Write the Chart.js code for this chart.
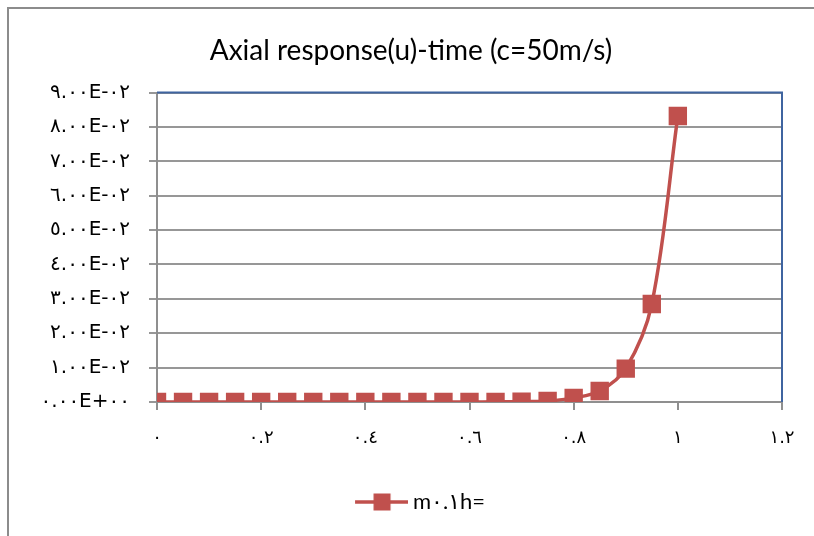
<!DOCTYPE html>
<html>
<head>
<meta charset="utf-8">
<script src="https://cdn.jsdelivr.net/npm/chart.js@4.4.0/dist/chart.umd.min.js"></script>
<style>
    html, body { margin: 0; padding: 0; background: #fff; }
    #wrap { width: 814px; height: 536px; }
</style>
</head>
<body>
<div id="wrap"><canvas id="axialChart" width="814" height="536"></canvas></div>
<script>
// time (s) and axial response u
const timeValues = [0, 0.05, 0.1, 0.15, 0.2, 0.25, 0.3, 0.35, 0.4, 0.45, 0.5,
                    0.55, 0.6, 0.65, 0.7, 0.75, 0.8, 0.85, 0.9, 0.95, 1];
const uValues = [0, 0, 0, 0, 0, 0, 0, 0, 0, 0, 0,
                 0, 0, 0.00005, 0.0001, 0.0003, 0.0012, 0.0032, 0.0097, 0.0285, 0.0832];
const xTickLabels = ['٠', '٠.٢', '٠.٤', '٠.٦', '٠.٨', '١', '١.٢'];
const yTickLabels = ['٠.٠٠E+٠٠', '١.٠٠E-٠٢', '٢.٠٠E-٠٢', '٣.٠٠E-٠٢', '٤.٠٠E-٠٢',
                     '٥.٠٠E-٠٢', '٦.٠٠E-٠٢', '٧.٠٠E-٠٢', '٨.٠٠E-٠٢', '٩.٠٠E-٠٢'];
const seriesLabel = 'm٠.١h=';
const chartTitle = 'Axial response(u)-time (c=50m/s)';

const red = '#C0504D';
const fontFamily = "Lato, 'DejaVu Sans', sans-serif";
const tickFamily = "'DejaVu Sans', sans-serif";

Chart.defaults.font.family = fontFamily;
Chart.defaults.color = '#000';

// legend symbol: line with a square marker, wider than its box so the line nearly meets the text
function legend_symbol() {
    const c = document.createElement('canvas');
    c.width = 77;
    c.height = 20;
    const g = c.getContext('2d');
    g.strokeStyle = red;
    g.lineWidth = 3.5;
    g.beginPath();
    g.moveTo(24, 10);
    g.lineTo(77, 10);
    g.stroke();
    g.fillStyle = red;
    g.fillRect(42.5, 1.5, 17, 17);
    return c;
}

const framePlugin = {
    id: 'frame',
    beforeDraw(chart) {
        const ctx = chart.ctx;
        ctx.save();
        ctx.strokeStyle = '#8c8c8c';
        ctx.lineWidth = 2;
        ctx.strokeRect(8, 8, 900, 900);
        ctx.restore();
    },
    beforeDatasetsDraw(chart) {
        const a = chart.chartArea;
        const ctx = chart.ctx;
        ctx.save();
        ctx.strokeStyle = '#3f64a0';
        ctx.lineWidth = 2;
        ctx.beginPath();
        ctx.moveTo(a.left, a.top);
        ctx.lineTo(a.right, a.top);
        ctx.lineTo(a.right, a.bottom);
        ctx.stroke();
        ctx.restore();
    }
};

const points = timeValues.map((t, i) => ({x: t, y: uValues[i]}));

new Chart(document.getElementById('axialChart').getContext('2d'), {
    type: 'line',
    data: {
        datasets: [{
            label: seriesLabel,
            data: points,
            borderColor: red,
            borderWidth: 3.5,
            backgroundColor: red,
            pointStyle: 'rect',
            pointRadius: 13,
            pointBorderWidth: 0,
            pointBackgroundColor: red,
            tension: 0.35,
            fill: false
        }]
    },
    options: {
        responsive: false,
        animation: false,
        layout: {
            padding: {left: 8, right: 0, top: 0, bottom: 13}
        },
        plugins: {
            title: {
                display: true,
                text: chartTitle,
                color: '#000',
                font: {size: 28, weight: 'normal'},
                padding: {top: 34, bottom: 25}
            },
            legend: {
                display: true,
                position: 'bottom',
                labels: {
                    usePointStyle: true,
                    pointStyleWidth: 65,
                    font: {size: 22},
                    padding: 14,
                    generateLabels: (chart) => [{
                        text: seriesLabel,
                        pointStyle: legend_symbol(),
                        fillStyle: red,
                        strokeStyle: red,
                        lineWidth: 0,
                        datasetIndex: 0
                    }]
                }
            },
            tooltip: {enabled: false}
        },
        scales: {
            x: {
                type: 'linear',
                min: 0,
                max: 1.2,
                ticks: {
                    stepSize: 0.2,
                    padding: 18,
                    font: {size: 18, family: tickFamily},
                    callback: (value) => xTickLabels[Math.round(value * 5)]
                },
                grid: {
                    drawOnChartArea: false,
                    drawTicks: true,
                    tickLength: 8,
                    color: '#8f8f8f',
                    lineWidth: 2
                },
                border: {color: '#8f8f8f', width: 2},
                afterFit: (scale) => { scale.height = 75; }
            },
            y: {
                min: 0,
                max: 0.09,
                ticks: {
                    stepSize: 0.01,
                    padding: 19,
                    font: {size: 20, family: tickFamily},
                    callback: (value) => yTickLabels[Math.round(value * 100)]
                },
                grid: {
                    drawTicks: true,
                    tickLength: 8,
                    color: '#979797',
                    lineWidth: 2
                },
                border: {color: '#8f8f8f', width: 2},
                afterFit: (scale) => { scale.width = 149; }
            },
            yRight: {
                position: 'right',
                display: true,
                grid: {display: false},
                ticks: {display: false},
                border: {display: false},
                afterFit: (scale) => { scale.width = 32; }
            }
        }
    },
    plugins: [framePlugin]
});
</script>
</body>
</html>
